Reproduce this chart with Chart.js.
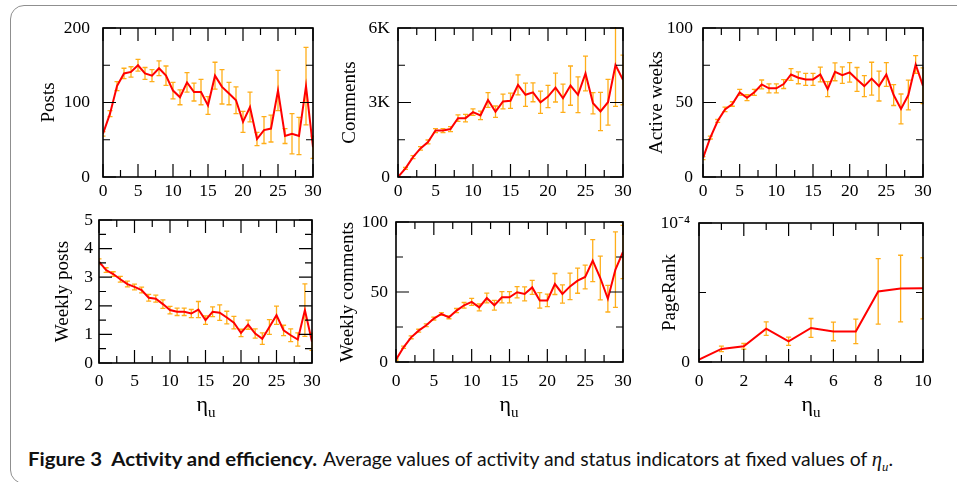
<!DOCTYPE html>
<html><head><meta charset="utf-8">
<script src="https://cdn.jsdelivr.net/npm/chart.js@4"></script>
<style>
body{margin:0;background:#fff;width:957px;height:482px;overflow:hidden;position:relative}
.frame{position:absolute;left:10px;top:5px;width:1000px;height:479px;border:1.5px solid #8f8f8f;border-radius:14px;box-sizing:border-box}
canvas{position:absolute}
.xt{position:absolute;font-family:'Liberation Serif',serif;font-size:22px;line-height:22px;transform:translateX(-50%);color:#000}
.xt sub{font-size:15px;vertical-align:-6px}
.cap span{position:absolute;top:446px;font-family:Lato,'Open Sans',sans-serif;font-size:19.8px;line-height:24px;white-space:nowrap;color:#111;transform-origin:0 50%}
#cb{left:28px;font-weight:700}
#cr{left:323px}
#cr i{font-family:'Liberation Serif',serif;font-size:21px}
#cr i sub{font-size:13px}
</style></head>
<body>
<div class="frame"></div>

<script>
// ---------- data ----------
const etaLong = [0,1,2,3,4,5,6,7,8,9,10,11,12,13,14,15,16,17,18,19,20,21,22,23,24,25,26,27,28,29,30];
const etaShort = [0,1,2,3,4,5,6,7,8,9,10];

const posts    = [58,85,122,139,141,150,139,136,146,136,116,107,127,114,114,96,136,121,112,103,74,94,51,63,65,116,55,58,55,122,40];
const postsErr = [3,4,6,7,7,8,8,8,10,13,11,10,13,12,17,12,18,23,15,18,14,20,9,18,18,27,10,27,25,52,15];

const comments    = [0,350,800,1150,1410,1870,1870,1930,2370,2370,2610,2480,3100,2630,3040,3070,3710,3310,3410,3010,3240,3600,3170,3680,3310,4170,2970,2640,3010,4510,3910];
const commentsErr = [20,40,60,70,80,80,80,100,130,150,130,170,300,230,300,310,400,470,380,450,450,580,570,790,720,700,430,770,920,1670,1000];

const activeWeeks    = [12.7,26.5,37.6,45.4,49,56.8,53.2,56.8,62.1,59.5,59.5,62.4,68.8,66.6,65.5,65.5,68.8,59,70.6,68.4,70.2,65.5,61,66,61,68.8,55,45.7,55,75.5,61.2];
const activeWeeksErr = [1,1,1,1.5,1.5,2,2,2,3,3,3,3,4,4,4,4,5,5,6,5.5,6.5,8,7,11,10,8,7,10,10,6,12];

const weeklyPosts    = [3.54,3.25,3.11,2.93,2.76,2.66,2.55,2.28,2.25,2.06,1.85,1.79,1.79,1.73,1.87,1.5,1.79,1.76,1.59,1.41,1.05,1.34,1.03,0.85,1.26,1.67,1.14,0.97,0.82,1.85,0.74];
const weeklyPostsErr = [0.1,0.08,0.08,0.1,0.1,0.1,0.1,0.12,0.12,0.15,0.13,0.13,0.13,0.14,0.28,0.15,0.17,0.27,0.22,0.22,0.13,0.16,0.16,0.2,0.26,0.32,0.18,0.22,0.23,0.92,0.3];

const weeklyComments    = [1.7,10.5,17.6,22.4,26.2,31,34.3,31.9,36.7,40.5,42.9,39,45.7,40.5,46.2,46.2,49.8,48.6,53.3,44,44,55.7,48.6,54,58.1,60.7,72.4,60,45.2,66,78.6];
const weeklyCommentsErr = [0.5,0.8,1,1,1,1,1,1,1.5,2,2.5,2.5,3.5,3.5,4,4,4,5,5,5.5,4.5,7.5,6.5,9.5,9,8.5,15,15.6,9.5,27,19];

const pageRank    = [1.7e-6,9.4e-6,1.13e-5,2.4e-5,1.49e-5,2.45e-5,2.2e-5,2.2e-5,5.08e-5,5.28e-5,5.3e-5];
const pageRankErr = [0,2e-6,2e-6,4.8e-6,3e-6,6.8e-6,6.7e-6,8.8e-6,2.35e-5,2.4e-5,2.2e-5];

// tick labels
const longXTicks  = [0,5,10,15,20,25,30];
const longXLabels = ['0','5','10','15','20','25','30'];
const shortXTicks  = [0,2,4,6,8,10];
const shortXLabels = ['0','2','4','6','8','10'];
const postsYTicks = [0,100,200],      postsYLabels = ['0','100','200'];
const commentsYTicks = [0,3000,6000], commentsYLabels = ['0','3K','6K'];
const activeYTicks = [0,50,100],      activeYLabels = ['0','50','100'];
const wPostsYTicks = [0,1,2,3,4,5],   wPostsYLabels = ['0','1','2','3','4','5'];
const wCommYTicks = [0,50,100],       wCommYLabels = ['0','50','100'];
const prYTicks = [0,1e-4],            prYLabels = ['0','10\u207B\u2074'];

const yTitles = ['Posts','Comments','Active weeks','Weekly posts','Weekly comments','PageRank'];

// ---------- helpers ----------
function labeler(vals, labels, step){
  return function(v){
    for(let i=0;i<vals.length;i++){ if(Math.abs(v-vals[i]) < step*1e-3) return labels[i]; }
    return '';
  };
}

const decor = {
  id:'decor',
  beforeDatasetsDraw(chart){
    const o = chart.options.plugins.decor;
    const {ctx, chartArea:a, scales:{x,y}} = chart;
    ctx.save();
    ctx.beginPath(); ctx.rect(a.left, a.top-1, a.right-a.left+1, a.bottom-a.top+1); ctx.clip();
    ctx.strokeStyle = 'rgba(255,165,0,0.9)';
    ctx.lineWidth = 1.3;
    o.xs.forEach((xv,i)=>{
      const e = o.err[i]; if(!e) return;
      const px = x.getPixelForValue(xv);
      const p1 = y.getPixelForValue(o.vals[i]-e), p2 = y.getPixelForValue(o.vals[i]+e);
      ctx.beginPath();
      ctx.moveTo(px,p1); ctx.lineTo(px,p2);
      ctx.moveTo(px-2.5,p1); ctx.lineTo(px+2.5,p1);
      ctx.moveTo(px-2.5,p2); ctx.lineTo(px+2.5,p2);
      ctx.stroke();
    });
    ctx.restore();
  },
  afterDraw(chart){
    const {ctx, chartArea:a, scales:{x,y}} = chart;
    ctx.save();
    ctx.strokeStyle = '#000';
    ctx.lineWidth = 1.2;
    ctx.beginPath();
    x.ticks.forEach(t=>{
      const px = x.getPixelForValue(t.value);
      const L = t.label !== '' ? 13 : 7;
      ctx.moveTo(px,a.bottom); ctx.lineTo(px,a.bottom-L);
      ctx.moveTo(px,a.top); ctx.lineTo(px,a.top+L);
    });
    y.ticks.forEach(t=>{
      const py = y.getPixelForValue(t.value);
      const L = t.label !== '' ? 13 : 7;
      ctx.moveTo(a.left,py); ctx.lineTo(a.left+L,py);
      ctx.moveTo(a.right,py); ctx.lineTo(a.right-L,py);
    });
    ctx.stroke();
    ctx.lineWidth = 1.6;
    ctx.strokeRect(a.left, a.top, a.right-a.left, a.bottom-a.top);
    ctx.restore();
  }
};
Chart.register(decor);

const PADL = 80, PADT = 40, PADR = 30, XH = 34;
function panel(rect, xs, vals, err, xr, yr, title, titleX, ypad, xpad){
  const [L,T,R,B] = rect;
  const c = document.createElement('canvas');
  const w = R-L+PADL+PADR, h = B-T+PADT+XH;
  c.width = w; c.height = h;
  c.style.left = (L-PADL)+'px'; c.style.top = (T-PADT)+'px';
  c.style.width = w+'px'; c.style.height = h+'px';
  document.body.appendChild(c);
  const titleFont = {family:'Liberation Serif', size:19, lineHeight:1.2};
  const tickFont = {family:'Liberation Serif', size:17.5};
  const tx = titleX - (L-PADL);
  new Chart(c, {
    type:'line',
    data:{datasets:[{data: xs.map((v,i)=>({x:v, y:vals[i]})), borderColor:'#ff0000', borderWidth:2,
      pointRadius:0, tension:0, fill:false}]},
    options:{
      responsive:false, animation:false, devicePixelRatio:1,
      layout:{padding:{left:0, top:PADT, right:PADR, bottom:0}},
      plugins:{legend:{display:false}, tooltip:{enabled:false}, decor:{xs, vals, err}},
      scales:{
        x:{type:'linear', min:xr.min, max:xr.max,
          grid:{display:false, drawTicks:false}, border:{display:false},
          ticks:{stepSize:xr.step, autoSkip:false, maxRotation:0, padding:xpad, color:'#000', font:tickFont,
            callback: labeler(xr.ticks, xr.labels, xr.step)},
          afterFit(s){ s.height = XH; }},
        y:{type:'linear', min:yr.min, max:yr.max,
          grid:{display:false, drawTicks:false}, border:{display:false},
          ticks:{stepSize:yr.step, autoSkip:false, padding:ypad, color:'#000', font:tickFont,
            callback: labeler(yr.ticks, yr.labels, yr.step)},
          title:{display:true, text:title, color:'#000', font:titleFont, padding:{top: tx - 19*1.2/2, bottom:0}},
          afterFit(s){ s.width = PADL; }}
      }
    }
  });
}

const xLong = {min:0, max:30, step:2.5, ticks:longXTicks, labels:longXLabels};
const xShort = {min:0, max:10, step:1, ticks:shortXTicks, labels:shortXLabels};

panel([103,28,313,177], etaLong, posts, postsErr, xLong,
  {min:0,max:200,step:50,ticks:postsYTicks,labels:postsYLabels}, yTitles[0], 49, 13, 4);
panel([398,28,623,177], etaLong, comments, commentsErr, xLong,
  {min:0,max:6000,step:1500,ticks:commentsYTicks,labels:commentsYLabels}, yTitles[1], 350, 8, 4);
panel([703,28,923,177], etaLong, activeWeeks, activeWeeksErr, xLong,
  {min:0,max:100,step:25,ticks:activeYTicks,labels:activeYLabels}, yTitles[2], 657, 10, 4);
panel([99,220,312,363], etaLong, weeklyPosts, weeklyPostsErr, xLong,
  {min:0,max:5,step:0.5,ticks:wPostsYTicks,labels:wPostsYLabels}, yTitles[3], 63, 6, 8);
panel([396,222,623,362], etaLong, weeklyComments, weeklyCommentsErr, xLong,
  {min:0,max:100,step:25,ticks:wCommYTicks,labels:wCommYLabels}, yTitles[4], 348, 8, 9);
panel([699,223,923,362], etaShort, pageRank, pageRankErr, xShort,
  {min:0,max:1e-4,step:5e-5,ticks:prYTicks,labels:prYLabels}, yTitles[5], 670, 9, 9);
</script>

<div class="xt" style="left:206px;top:393px">η<sub>u</sub></div>
<div class="xt" style="left:509px;top:393px">η<sub>u</sub></div>
<div class="xt" style="left:811px;top:393px">η<sub>u</sub></div>
<div class="cap"><span id="cb">Figure 3&nbsp;&nbsp;Activity and efficiency.</span><span id="cr">Average values of activity and status indicators at fixed values of <i>η<sub>u</sub></i>.</span></div>
<script>
function fitWidth(id, target){
  const el = document.getElementById(id);
  const w = el.getBoundingClientRect().width;
  if (w > 0) el.style.transform = 'scaleX(' + (target / w) + ')';
}
fitWidth('cb', 289);
fitWidth('cr', 570);
</script>
</body></html>
